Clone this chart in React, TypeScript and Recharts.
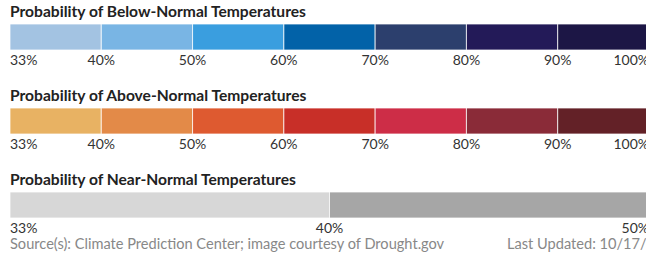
import { BarChart, Bar, XAxis, YAxis } from 'recharts';

// probability bins, each drawn as one equal-width band
const belowTicks = ['33%', '40%', '50%', '60%', '70%', '80%', '90%', '100%'];
const belowColors = ['#a3c3e2', '#79b5e4', '#3a9edf', '#0262a8', '#2c3f6d', '#231a58', '#1c1645'];

const aboveTicks = ['33%', '40%', '50%', '60%', '70%', '80%', '90%', '100%'];
const aboveColors = ['#e8b263', '#e38a48', '#de5a30', '#c82f28', '#cd2d47', '#8a2b38', '#632127'];

const nearTicks = ['33%', '40%', '50%'];
const nearColors = ['#d7d7d7', '#a6a6a6'];

const FONT = 'Lato, "Noto Sans", sans-serif';

function makeRow(name: string, colors: string[]) {
  const row: Record<string, string | number> = { name };
  colors.forEach((_, i) => {
    row['s' + i] = 1;
  });
  return [row];
}

function ScaleTick(props: any) {
  const { x, y, payload, labels } = props;
  const i = payload.value as number;
  const anchor = i === 0 ? 'start' : i === labels.length - 1 ? 'end' : 'middle';
  return (
    <text x={x} y={y + 15} textAnchor={anchor} fill="#333" fontSize={14} fontFamily={FONT}>
      {labels[i]}
    </text>
  );
}

function ScaleBar({ name, colors, labels, top }: { name: string; colors: string[]; labels: string[]; top: number }) {
  const ticks = labels.map((_, i) => i);
  return (
    <div style={{ position: 'absolute', left: 0, top }}>
      <BarChart
        width={660}
        height={50}
        layout="vertical"
        data={makeRow(name, colors)}
        margin={{ top: 0, right: 11, left: 10, bottom: 0 }}
        barCategoryGap={0}
      >
        <XAxis
          type="number"
          domain={[0, colors.length]}
          ticks={ticks}
          interval={0}
          axisLine={false}
          tickLine={false}
          tickSize={0}
          tickMargin={0}
          height={24}
          tick={<ScaleTick labels={labels} />}
        />
        <YAxis type="category" dataKey="name" hide />
        {colors.map((c, i) => (
          <Bar
            key={i}
            dataKey={'s' + i}
            stackId="a"
            fill={c}
            stroke="rgba(255,255,255,0.75)"
            strokeWidth={1}
            isAnimationActive={false}
          />
        ))}
      </BarChart>
    </div>
  );
}

const titleStyle = {
  position: 'absolute' as const,
  left: 10,
  fontFamily: FONT,
  fontWeight: 700,
  fontSize: 15.6,
  lineHeight: '18px',
  color: '#222',
  whiteSpace: 'nowrap' as const,
};

const footStyle = {
  position: 'absolute' as const,
  top: 235,
  fontFamily: FONT,
  fontSize: 14.6,
  lineHeight: '17px',
  color: '#888',
  whiteSpace: 'nowrap' as const,
};

export default function App() {
  return (
    <div style={{ position: 'absolute', left: 0, top: 0, width: 646, height: 254, overflow: 'hidden', background: '#fff' }}>
      <div style={{ ...titleStyle, top: 2 }}>Probability of Below-Normal Temperatures</div>
      <ScaleBar name="below" colors={belowColors} labels={belowTicks} top={24} />

      <div style={{ ...titleStyle, top: 86 }}>Probability of Above-Normal Temperatures</div>
      <ScaleBar name="above" colors={aboveColors} labels={aboveTicks} top={108} />

      <div style={{ ...titleStyle, top: 170 }}>Probability of Near-Normal Temperatures</div>
      <ScaleBar name="near" colors={nearColors} labels={nearTicks} top={192} />

      <div style={{ ...footStyle, left: 10 }}>Source(s): Climate Prediction Center; image courtesy of Drought.gov</div>
      <div style={{ ...footStyle, left: 507 }}>Last Updated: 10/17/24</div>
    </div>
  );
}
